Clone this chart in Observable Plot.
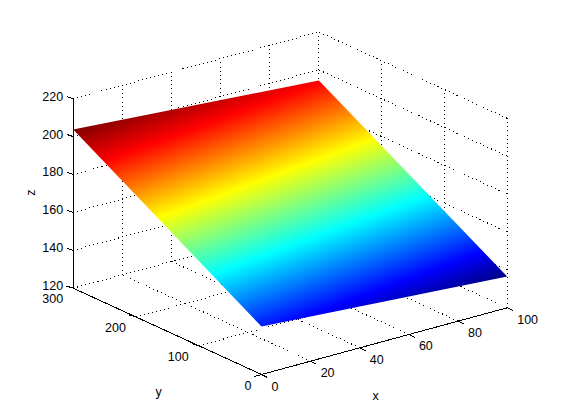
<!DOCTYPE html>
<html><head><meta charset="utf-8">
<style>html,body{margin:0;padding:0;background:#fff;overflow:hidden}svg{display:block}</style>
<script src="https://cdn.jsdelivr.net/npm/d3@7"></script>
<script src="https://cdn.jsdelivr.net/npm/@observablehq/plot@0.6"></script>
</head><body><script>
const xTicks = [0, 20, 40, 60, 80, 100];
const yTicks = [0, 100, 200, 300];
const zTicks = [120, 140, 160, 180, 200, 220];
const surfaceX = [0, 100, 100, 0];
const surfaceY = [0, 0, 300, 300];
const surfaceZ = [145.3, 136.5, 194.4, 203.7];
const jetPositions = [0, 0.1094, 0.3594, 0.6094, 0.8594, 1];
const jetColors = ["#000084", "#0000ff", "#00ffff", "#ffff00", "#ff0000", "#800000"];

// Orthographic view of the 3D axes onto the page
const sx = (x, y) => 261 + 2.457 * x - 0.6277 * y;
const sy = (x, y, z) => 374 - 0.667 * x - 0.2877 * y - 1.895 * (z - 120);
const [xMin, xMax] = d3.extent(xTicks), [yMin, yMax] = d3.extent(yTicks), [zMin, zMax] = d3.extent(zTicks);
const seg = (a, b) => ({x1: sx(a[0], a[1]), y1: sy(...a), x2: sx(b[0], b[1]), y2: sy(...b)});

const grid = [
  ...xTicks.map(x => seg([x, yMin, zMin], [x, yMax, zMin])),
  ...yTicks.map(y => seg([xMin, y, zMin], [xMax, y, zMin])),
  ...zTicks.map(z => seg([xMin, yMax, z], [xMax, yMax, z])),
  ...zTicks.map(z => seg([xMax, yMin, z], [xMax, yMax, z])),
  ...xTicks.slice(1).map(x => seg([x, yMax, zMin], [x, yMax, zMax])),
  ...yTicks.slice(0, -1).map(y => seg([xMax, y, zMin], [xMax, y, zMax]))
];
const axes = [
  seg([xMin, yMin, zMin], [xMax, yMin, zMin]),
  seg([xMin, yMin, zMin], [xMin, yMax, zMin]),
  seg([xMin, yMax, zMin], [xMin, yMax, zMax])
];
const tickMarks = [
  ...xTicks.map(x => ({...seg([x, yMin, zMin], [x, yMin, zMin]), ox: 6, oy: 3})),
  ...yTicks.map(y => ({...seg([xMin, y, zMin], [xMin, y, zMin]), ox: -7, oy: y === 0 ? 2 : -2})),
  ...zTicks.map(z => ({...seg([xMin, yMax, z], [xMin, yMax, z]), ox: -6, oy: -2}))
].map(d => ({...d, x2: d.x2 + d.ox, y2: d.y2 + d.oy}));

const corners = surfaceX.map((x, i) => ({x, y: surfaceY[i], z: surfaceZ[i]}))
  .map(d => ({...d, px: sx(d.x, d.y), py: sy(d.x, d.y, d.z)}));

// jet gradient: runs across the plane, perpendicular to its lines of equal z
function jetGradient(index, scales) {
  const [a, b, c] = [corners[0], corners[1], corners[3]];
  const [ux, uy, uz] = [b.px - a.px, b.py - a.py, b.z - a.z];
  const [vx, vy, vz] = [c.px - a.px, c.py - a.py, c.z - a.z];
  const det = ux * vy - uy * vx;
  const gx = (uz * vy - vz * uy) / det, gy = (vz * ux - uz * vx) / det;
  const g2 = gx * gx + gy * gy;
  const lo = d3.least(corners, d => d.z), hi = d3.greatest(corners, d => d.z);
  const span = hi.z - lo.z;
  const ns = "http://www.w3.org/2000/svg";
  const defs = document.createElementNS(ns, "defs");
  const lg = document.createElementNS(ns, "linearGradient");
  lg.setAttribute("id", "jet");
  lg.setAttribute("gradientUnits", "userSpaceOnUse");
  lg.setAttribute("x1", scales.x(lo.px));
  lg.setAttribute("y1", scales.y(lo.py));
  lg.setAttribute("x2", scales.x(lo.px + gx * span / g2));
  lg.setAttribute("y2", scales.y(lo.py + gy * span / g2));
  jetPositions.forEach((p, i) => {
    const s = document.createElementNS(ns, "stop");
    s.setAttribute("offset", p);
    s.setAttribute("stop-color", jetColors[i]);
    lg.appendChild(s);
  });
  defs.appendChild(lg);
  return defs;
}

const font = {fontFamily: "'Liberation Sans', Arial, sans-serif", fontSize: 12.5, fill: "#000"};
const linkOpts = {x1: "x1", y1: "y1", x2: "x2", y2: "y2", stroke: "#000", strokeWidth: 1, strokeOpacity: 1, shapeRendering: "crispEdges"};

const plot = Plot.plot({
  width: 561, height: 420,
  margin: 0,
  style: {background: "#fff"},
  x: {axis: null, domain: [0, 561], range: [0, 561]},
  y: {axis: null, domain: [0, 420], range: [0, 420]},
  marks: [
    jetGradient,
    Plot.link(grid, {...linkOpts, strokeDasharray: "1,3.2"}),
    Plot.link(axes, linkOpts),
    Plot.link(tickMarks, linkOpts),
    Plot.line(corners, {x: "px", y: "py", curve: "linear-closed", fill: "url(#jet)", stroke: "none"}),
    Plot.text(xTicks, {x: d => sx(d, yMin), y: d => sy(d, yMin, zMin), text: d => String(d), dx: 10, dy: 12, textAnchor: "start", ...font}),
    Plot.text(yTicks, {x: d => sx(xMin, d), y: d => sy(xMin, d, zMin), text: d => String(d), dx: -10, dy: 11, textAnchor: "end", ...font}),
    Plot.text(zTicks, {x: d => sx(xMin, yMax), y: d => sy(xMin, yMax, d), text: d => String(d), dx: -10, dy: -2, textAnchor: "end", ...font}),
    Plot.text(["x"], {x: () => 375, y: () => 395, text: d => d, ...font}),
    Plot.text(["y"], {x: () => 158, y: () => 391, text: d => d, ...font}),
    Plot.text(["z"], {x: () => 30, y: () => 192, text: d => d, rotate: -90, ...font})
  ]
});
document.body.appendChild(plot);
</script></body></html>
